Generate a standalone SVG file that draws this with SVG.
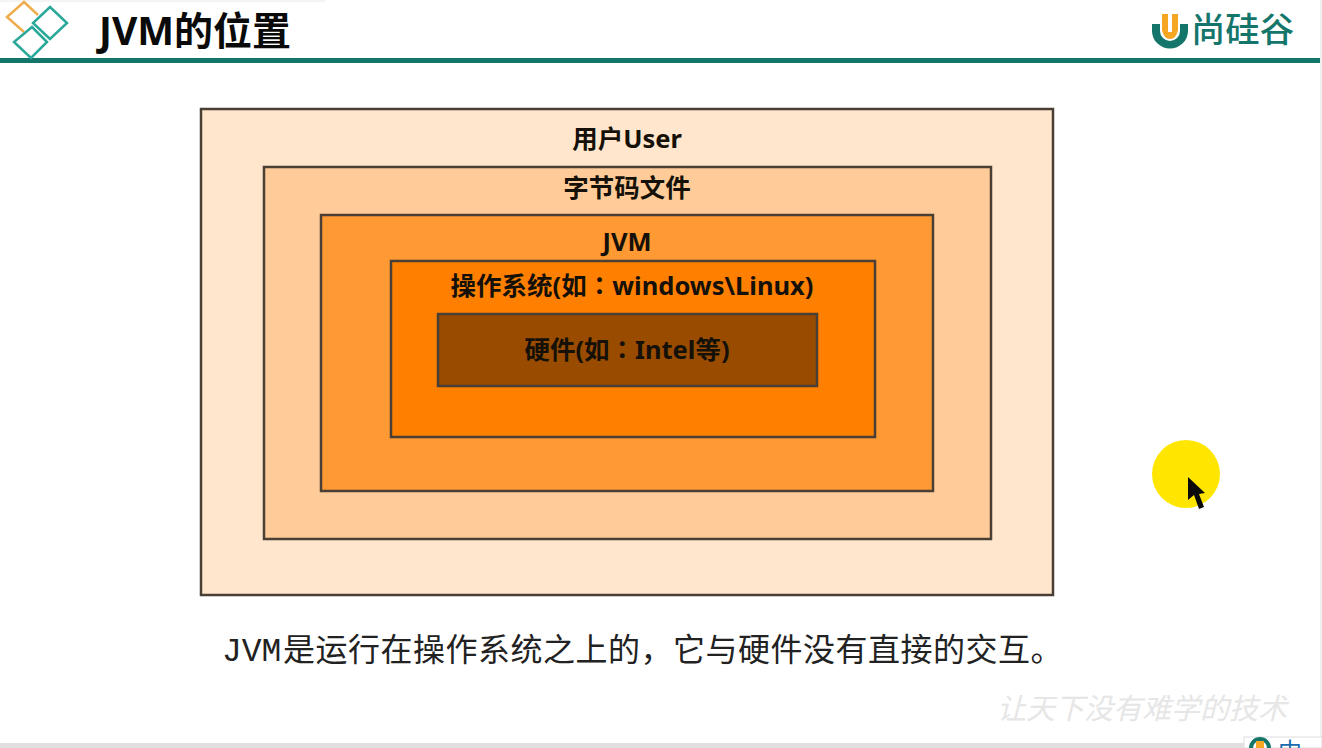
<svg xmlns="http://www.w3.org/2000/svg" width="1322" height="748" viewBox="0 0 1322 748">
<style>
.box{stroke:#4a3f35;stroke-width:2.500}
.lbl{font-family:"Noto Sans","Noto Sans CJK SC",sans-serif;font-weight:700;font-size:25.500px;fill:#151008;text-anchor:middle}
.col{font-family:"Noto Sans CJK TC",sans-serif}
.dia{fill:none;stroke-width:2.500}
</style>
<rect width="1322" height="748" fill="#fff"/>
<g id="header">
<rect x="0" y="0" width="325" height="2" fill="#f4f4f4"/>
<rect x="0" y="58" width="1322" height="5" fill="#14766a"/>
<path class="dia" stroke="#f0ad4e" d="M24 32L7 17L24 2L38 15"/>
<path class="dia" stroke="#2aa89a" d="M50 7L67 23L50 39L33 23Z"/>
<path class="dia" stroke="#2aa89a" d="M32 27L47 42L31 58L14 42Z"/>
<text x="99" y="45" font-family="'Noto Sans','Noto Sans CJK SC',sans-serif" font-weight="700" font-size="39" fill="#0a0a0a">JVM的位置</text>
</g>
<g id="logo">
<path d="M1152 24V31A18 17.500 0 0 0 1188 31V24H1180V31A10 10 0 0 1 1160 31V24Z" fill="#14766a"/>
<path d="M1162 14H1178V30Q1176 39 1170 39Q1164 39 1162 30Z" fill="#f5a623"/>
<rect x="1168" y="14" width="4" height="18" fill="#fff"/>
<text x="1191" y="42" font-family="'Noto Sans CJK SC',sans-serif" font-weight="500" font-size="34" fill="#14766a" textLength="103" lengthAdjust="spacingAndGlyphs">尚硅谷</text>
</g>
<g id="user"><rect class="box" x="201" y="109" width="852" height="486" fill="#ffe6cc"/><text class="lbl" x="627" y="148">用户User</text></g>
<g id="bytecode"><rect class="box" x="264" y="167" width="727" height="372" fill="#ffcc99"/><text class="lbl" x="627" y="197">字节码文件</text></g>
<g id="jvm"><rect class="box" x="321" y="215" width="612" height="276" fill="#ff9933"/><text class="lbl" x="627" y="251">JVM</text></g>
<g id="os"><rect class="box" x="391" y="261" width="484" height="176" fill="#ff8000"/><text class="lbl" x="632" y="295">操作系统(如<tspan class="col">：</tspan>windows\Linux)</text></g>
<g id="hardware"><rect class="box" x="438" y="314" width="379" height="72" fill="#994c00"/><text class="lbl" x="627" y="359">硬件(如<tspan class="col">：</tspan>Intel等)</text></g>
<text id="caption" x="222" y="661" font-family="'Noto Sans CJK SC',serif" font-size="32" fill="#222"><tspan font-family="'Liberation Mono',monospace" font-size="33">JVM</tspan><tspan x="283" letter-spacing="0.500">是运行在操作系统之上的，它与硬件没有直接的交互。</tspan></text>
<text id="slogan" x="997" y="719" font-family="'Noto Sans CJK SC',sans-serif" font-size="29" font-style="italic" fill="#e6e6e6" textLength="290" lengthAdjust="spacing">让天下没有难学的技术</text>
<g id="pointer">
<circle cx="1186" cy="474" r="34" fill="#ffe600"/>
<path d="M1188 477V500L1194 495L1199 509L1204 507L1199 494L1205 493Z" fill="#0a0a0a"/>
</g>
<g id="bottom">
<rect x="1320" y="0" width="2" height="743" fill="#f0f0f0"/>
<rect x="0" y="743" width="1322" height="5" fill="#e0e0e0"/>
<rect x="1244" y="737" width="78" height="11" fill="#fff" stroke="#ddd"/>
<text x="1278" y="760" font-family="'Noto Sans CJK SC',sans-serif" font-size="24" fill="#1a6ab0">中</text>
<path d="M1249 748A10 10 0 0 1 1271 748H1267A6 6 0 0 0 1253 748Z" fill="#14766a"/>
<path d="M1256 748V741H1264V748Z" fill="#f5a623"/>
</g>
</svg>
